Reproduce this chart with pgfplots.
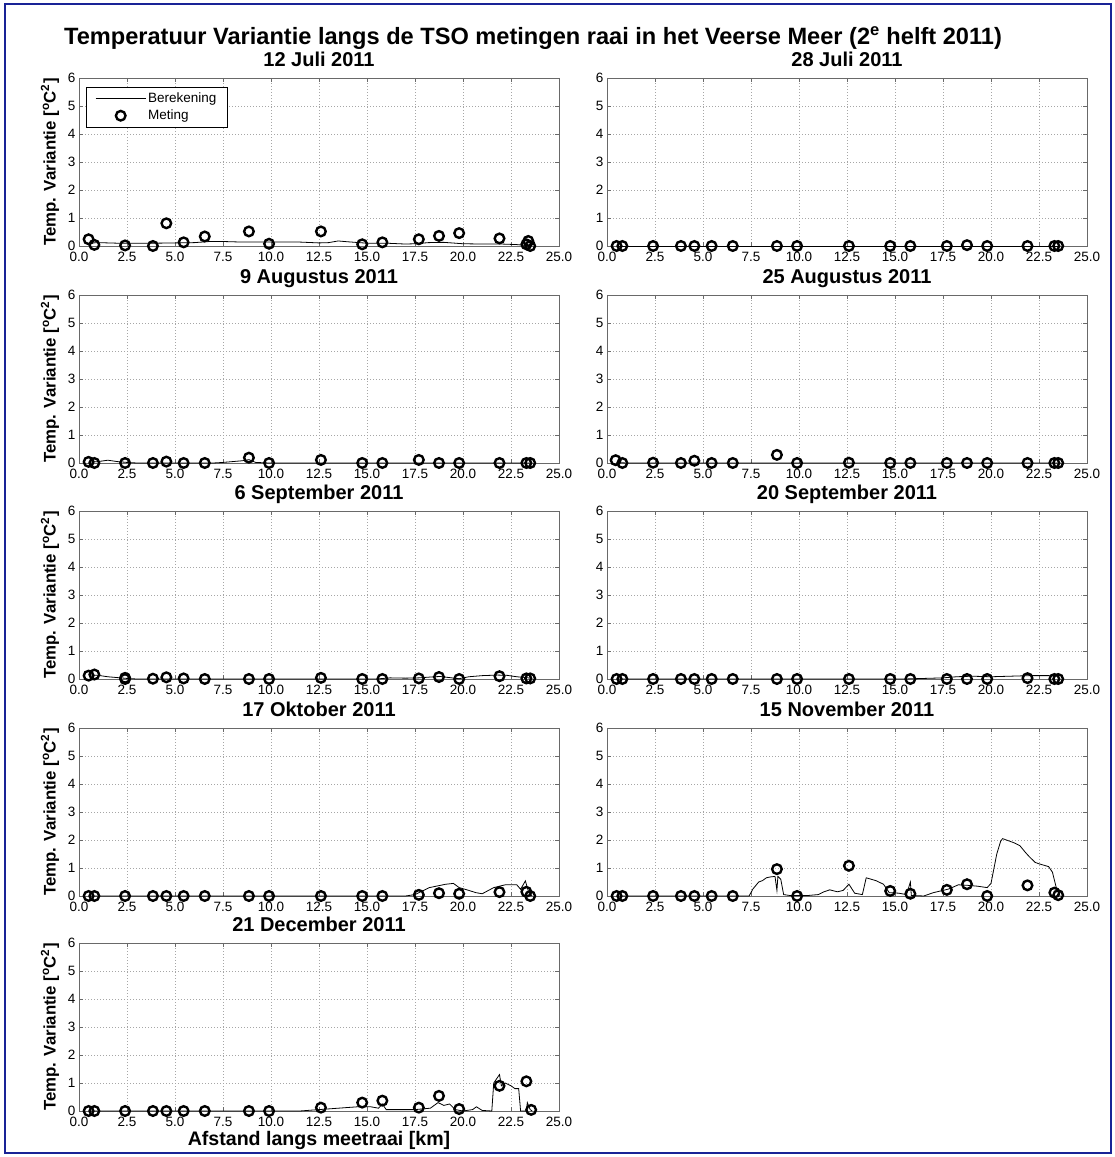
\documentclass[border=0pt]{standalone}
\usepackage{fontspec}
\setmainfont{Liberation Sans}
\usepackage{pgfplots}
\pgfplotsset{compat=1.18}
\definecolor{borderblue}{RGB}{25,35,150}
\definecolor{axgray}{RGB}{105,105,105}
\pgfplotsset{
  legend image code/.code={\draw[mark repeat=2,mark phase=2,#1] plot coordinates {(0pt,0pt) (25pt,0pt) (50pt,0pt)};},
  panel/.style={
    scale only axis, width=480pt, height=168pt,
    xmin=0, xmax=25, ymin=0, ymax=6,
    xtick={0,2.5,...,25}, ytick={0,1,...,6},
    xticklabel={\pgfmathprintnumber[fixed,fixed zerofill,precision=1]{\tick}},
    /pgf/number format/assume math mode=true,
    tick label style={font=\fontsize{13.5}{16}\selectfont, black},
    xticklabel style={yshift=-3pt},
    tick align=inside, tick pos=both, major tick length=4pt,
    grid=major,
    major grid style={gray!70, dash pattern=on 1pt off 2pt, line width=0.6pt},
    axis line style={axgray, line width=0.9pt},
    tick style={axgray, line width=0.9pt},
    every axis title shift=0pt,
    title style={at={(0.5,1)}, anchor=base, yshift=11pt, font=\bfseries\fontsize{20}{23}\selectfont},
    ylabel style={at={([xshift=-23.5pt]axis description cs:0,0.5)}, anchor=base, font=\bfseries\fontsize{16.8}{19}\selectfont},
    xlabel style={at={([yshift=-34pt]axis description cs:0.5,0)}, anchor=base, font=\bfseries\fontsize{19.6}{23}\selectfont},
    clip=false,
  },
  calc/.style={black, line width=0.8pt, no marks},
  meas/.style={only marks, mark=o, mark size=4.8pt, black, line width=2.4pt},
}
\newcommand{\yl}{Temp. Variantie [\textsuperscript{o}C\textsuperscript{2}]}
\begin{document}
\begin{tikzpicture}
\path[use as bounding box] (0pt,0pt) rectangle (1115pt,1157pt);
\draw[borderblue, line width=2.5pt] (5pt,4pt) rectangle (1111pt,1153pt);
\node[font=\bfseries\fontsize{23.6}{27}\selectfont, anchor=base] at (533pt,1112pt)
  {Temperatuur Variantie langs de TSO metingen raai in het Veerse Meer (2\textsuperscript{e} helft 2011)};

% ---- 12 Juli 2011
\begin{axis}[panel, at={(79pt,911pt)}, anchor=south west, title={12 Juli 2011}, ylabel={\yl},
  legend style={at={([xshift=7pt,yshift=-9pt]axis description cs:0,1)}, anchor=north west,
    draw=black, line width=0.6pt, fill=white, font=\fontsize{13.5}{15}\selectfont,
    row sep=2pt, inner xsep=9pt, inner ysep=3.5pt},
  legend cell align=left]
\addplot[calc] coordinates {(0.5,0.1) (1,0.12) (2,0.1) (3,0.1) (4,0.1) (5,0.11) (6,0.12) (6.8,0.16) (7.5,0.16) (8.5,0.14) (10,0.14) (11.5,0.14) (12.5,0.11) (13,0.12) (13.5,0.18) (14,0.15) (15,0.1) (16,0.1) (17,0.07) (17.5,0.08) (18.2,0.12) (19,0.13) (20,0.08) (21,0.07) (22,0.07) (22.8,0.05) (23.3,0.02) (23.6,0)};
\addlegendentry{Berekening}
\addplot[meas] coordinates {(0.5,0.24) (0.8,0.04) (2.4,0.02) (3.85,0) (4.55,0.81) (5.45,0.13) (6.55,0.34) (8.85,0.52) (9.9,0.08) (12.6,0.52) (14.75,0.06) (15.8,0.13) (17.7,0.24) (18.75,0.36) (19.8,0.46) (21.9,0.27) (23.3,0.06) (23.4,0.18) (23.5,0)};
\addlegendentry{Meting}
\end{axis}

% ---- 28 Juli 2011
\begin{axis}[panel, at={(607pt,911pt)}, anchor=south west, title={28 Juli 2011}]
\addplot[calc] coordinates {(0.5,0) (23.6,0)};
\addplot[meas] coordinates {(0.5,0) (0.8,0) (2.4,0) (3.85,0) (4.55,0) (5.45,0) (6.55,0) (8.85,0) (9.9,0) (12.6,0) (14.75,0) (15.8,0) (17.7,0) (18.75,0.03) (19.8,0) (21.9,0) (23.3,0) (23.5,0)};
\end{axis}

% ---- 9 Augustus 2011
\begin{axis}[panel, at={(79pt,694pt)}, anchor=south west, title={9 Augustus 2011}, ylabel={\yl}]
\addplot[calc] coordinates {(0.5,0.03) (1,0.05) (1.5,0.1) (2,0.05) (2.5,0.02) (3,0) (7,0) (7.5,0.02) (8.5,0.08) (8.85,0.12) (9.2,0.02) (9.9,0) (23.6,0)};
\addplot[meas] coordinates {(0.5,0.04) (0.8,0) (2.4,0) (3.85,0) (4.55,0.05) (5.45,0) (6.55,0) (8.85,0.19) (9.9,0) (12.6,0.11) (14.75,0) (15.8,0) (17.7,0.11) (18.75,0) (19.8,0) (21.9,0) (23.3,0) (23.5,0)};
\end{axis}

% ---- 25 Augustus 2011
\begin{axis}[panel, at={(607pt,694pt)}, anchor=south west, title={25 Augustus 2011}]
\addplot[calc] coordinates {(0.5,0.02) (1,0) (23.6,0)};
\addplot[meas] coordinates {(0.45,0.1) (0.8,0) (2.4,0.01) (3.85,0) (4.55,0.08) (5.45,0) (6.55,0) (8.85,0.29) (9.9,0) (12.6,0.01) (14.75,0) (15.8,0) (17.7,0) (18.75,0) (19.8,0) (21.9,0) (23.3,0) (23.5,0)};
\end{axis}

% ---- 6 September 2011
\begin{axis}[panel, at={(79pt,478pt)}, anchor=south west, title={6 September 2011}, ylabel={\yl}]
\addplot[calc] coordinates {(0.5,0.15) (1,0.13) (1.5,0.08) (2,0.05) (2.5,0.02) (3,0) (15.5,0) (16.2,0.04) (17,0.03) (17.7,0.04) (18.3,0.07) (18.8,0.09) (19.3,0.05) (19.8,0.01) (20.3,0.08) (21,0.12) (21.8,0.14) (22.3,0.13) (22.8,0.08) (23.3,0.05) (23.6,0.02)};
\addplot[meas] coordinates {(0.5,0.12) (0.8,0.16) (2.4,0.04) (2.4,0) (3.85,0.01) (4.55,0.06) (5.45,0.02) (6.55,0) (8.85,0) (9.9,0) (12.6,0.04) (14.75,0) (15.8,0) (17.7,0.02) (18.75,0.07) (19.8,0) (21.9,0.1) (23.3,0.02) (23.5,0.02)};
\end{axis}

% ---- 20 September 2011
\begin{axis}[panel, at={(607pt,478pt)}, anchor=south west, title={20 September 2011}]
\addplot[calc] coordinates {(0.5,0) (15.5,0) (16.5,0.02) (17.5,0.04) (18.2,0.08) (19,0.1) (20,0.08) (21,0.1) (22,0.12) (23,0.12) (23.5,0.1)};
\addplot[meas] coordinates {(0.5,0) (0.8,0) (2.4,0) (3.85,0) (4.55,0) (5.45,0) (6.55,0) (8.85,0) (9.9,0) (12.6,0) (14.75,0) (15.8,0) (17.7,0) (18.75,0) (19.8,0) (21.9,0.03) (23.3,0) (23.5,0)};
\end{axis}

% ---- 17 Oktober 2011
\begin{axis}[panel, at={(79pt,261pt)}, anchor=south west, title={17 Oktober 2011}, ylabel={\yl}]
\addplot[calc] coordinates {(0.5,0) (17,0) (17.5,0.05) (18.25,0.3) (19.1,0.42) (19.5,0.45) (19.8,0.3) (20.3,0.2) (20.67,0.12) (21.0,0.08) (21.6,0.3) (22.2,0.4) (22.8,0.4) (23.0,0.24) (23.25,0.54) (23.4,0.18) (23.6,0)};
\addplot[meas] coordinates {(0.5,0) (0.8,0) (2.4,0) (3.85,0) (4.55,0) (5.45,0) (6.55,0) (8.85,0) (9.9,0) (12.6,0) (14.75,0) (15.8,0) (17.7,0.04) (18.75,0.1) (19.8,0.08) (21.9,0.14) (23.3,0.15) (23.5,0)};
\end{axis}

% ---- 15 November 2011
\begin{axis}[panel, at={(607pt,261pt)}, anchor=south west, title={15 November 2011}]
\addplot[calc] coordinates {(0.5,0) (7.4,0) (7.6,0.25) (7.9,0.5) (8.1,0.55) (8.3,0.65) (8.5,0.68) (8.75,0.7) (8.85,0.2) (8.9,0.7) (9.05,0.6) (9.2,0.05) (9.5,0.02) (10.5,0.02) (11,0.05) (11.3,0.15) (11.6,0.22) (12,0.15) (12.3,0.2) (12.6,0.42) (12.9,0.1) (13.3,0.05) (13.5,0.65) (14,0.55) (14.4,0.42) (14.7,0.12) (15.2,0.1) (15.6,0.05) (15.8,0.5) (15.85,0.02) (16.5,0) (17,0.12) (17.5,0.2) (17.8,0.25) (18.3,0.4) (18.8,0.38) (19.3,0.35) (19.8,0.3) (20.0,0.45) (20.1,0.8) (20.3,1.5) (20.5,1.95) (20.6,2.05) (20.8,2.0) (21.2,1.9) (21.5,1.8) (21.8,1.55) (22.0,1.4) (22.3,1.2) (22.5,1.15) (23.0,1.05) (23.2,0.85) (23.4,0.3) (23.6,0)};
\addplot[meas] coordinates {(0.5,0) (0.8,0) (2.4,0) (3.85,0) (4.55,0) (5.45,0) (6.55,0) (8.85,0.96) (9.9,0) (12.6,1.08) (14.75,0.18) (15.8,0.08) (17.7,0.22) (18.75,0.42) (19.8,0) (21.9,0.38) (23.3,0.12) (23.5,0.03)};
\end{axis}

% ---- 21 December 2011
\begin{axis}[panel, at={(79pt,46pt)}, anchor=south west, title={21 December 2011}, ylabel={\yl}, xlabel={Afstand langs meetraai [km]}]
\addplot[calc] coordinates {(0.5,0) (11.5,0) (12.5,0.05) (13.5,0.1) (14.5,0.15) (15.2,0.15) (15.6,0.1) (15.8,0.25) (16.0,0.05) (17.5,0.05) (18.3,0.1) (18.7,0.3) (19.0,0.2) (19.3,0.25) (19.6,0.05) (20.0,0) (20.5,0.05) (20.7,0.15) (21.0,0.02) (21.5,0) (21.6,1.0) (21.9,1.3) (22.0,0.9) (22.2,1.0) (22.5,0.9) (22.7,0.8) (22.9,0.8) (23.0,0) (23.3,0) (23.35,0.3) (23.5,0.05) (23.6,0)};
\addplot[meas] coordinates {(0.5,0) (0.8,0) (2.4,0) (3.85,0) (4.55,0) (5.45,0) (6.55,0) (8.85,0) (9.9,0) (12.6,0.12) (14.75,0.3) (15.8,0.37) (17.7,0.12) (18.75,0.54) (19.8,0.07) (21.9,0.9) (23.3,1.06) (23.55,0.04)};
\end{axis}
\end{tikzpicture}
\end{document}
